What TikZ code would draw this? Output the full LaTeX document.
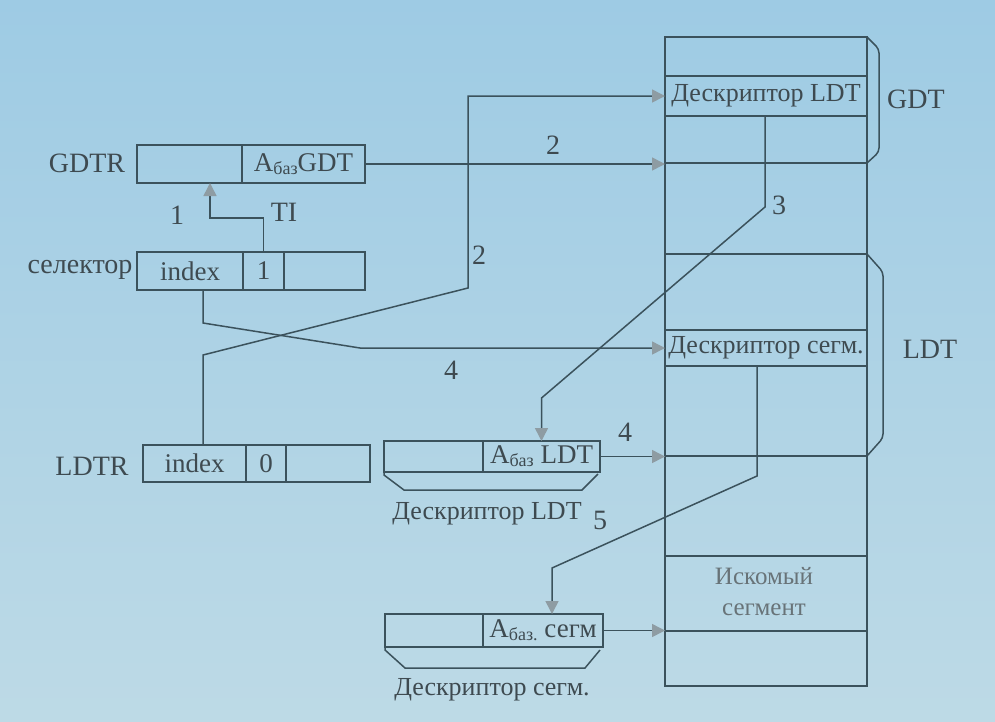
\documentclass[tikz,border=0pt]{standalone}
\usepackage{fontspec}
\setmainfont{Liberation Serif}
\usetikzlibrary{arrows.meta,calc}
\definecolor{ln}{HTML}{3B525C}
\definecolor{tx}{HTML}{3E4A50}
\definecolor{tx2}{HTML}{687378}
\definecolor{ah}{HTML}{8E9CA3}
\definecolor{bgt}{HTML}{9ECBE4}
\definecolor{bgb}{HTML}{BDDAE6}
\newcommand{\sbz}[1]{\raisebox{-3pt}{\fontsize{18}{18}\selectfont #1}}
\begin{document}
\begin{tikzpicture}[x=1pt,y=-1pt,
  cell/.style={draw=ln, line width=1.5pt, rectangle, inner sep=0pt, outer sep=0pt, text=tx, font=\fontsize{27}{27}\selectfont},
  trow/.style={cell, minimum width=202pt, font=\fontsize{26}{26}\selectfont},
  lbl/.style={text=tx, inner sep=0pt, font=\fontsize{28}{28}\selectfont},
  conn/.style={draw=ln, line width=1.5pt},
  arr/.style={conn, -{Triangle[length=13pt,width=13pt,fill=ah,color=ah]}}]
\fill[top color=bgt, bottom color=bgb] (0,0) rectangle (995,721);
\useasboundingbox (0,0) rectangle (995,721);

% table
\node[trow, minimum height=39pt] (r1) at (766,56.5) {};
\node[trow, minimum height=40pt] (r2) at (766,96) {Дескриптор LDT};
\node[trow, minimum height=47pt] (r3) at (766,139.5) {};
\node[trow, minimum height=91pt] (r4) at (766,208.5) {};
\node[trow, minimum height=76pt] (r5) at (766,292) {};
\node[trow, minimum height=36pt] (r6) at (766,348) {Дескриптор сегм.};
\node[trow, minimum height=90pt] (r7) at (766,411) {};
\node[trow, minimum height=100pt] (r8) at (766,506) {};
\node[trow, minimum height=75pt] (r9) at (766,593.5) {};
\node[trow, minimum height=55pt] (r10) at (766,658.5) {};
\node[lbl, text=tx2, align=center, font=\fontsize{25}{31}\selectfont] (seg) at (764,592) {Искомый\\сегмент};

% brackets
\draw[conn, rounded corners=4pt] (r1.north east) -- (879,49) -- (879,152) -- (r3.south east);
\draw[conn, rounded corners=4pt] (r5.north east) -- (883,272) -- (883,438) -- (r7.south east);
\node[lbl] (gdt) at (916,99) {GDT};
\node[lbl] (ldt) at (930,349) {LDT};

% GDTR
\node[lbl] (gdtrl) at (87,163) {GDTR};
\node[cell, minimum width=105pt, minimum height=38pt] (gA) at (189.5,164) {};
\node[cell, minimum width=123pt, minimum height=38pt] (gB) at (303.5,164) {А\sbz{баз}GDT};

% selector
\node[lbl] (sell) at (80,270) {селектор};
\node[cell, minimum width=106pt, minimum height=38pt] (sIdx) at (190,271) {index};
\node[cell, minimum width=41pt, minimum height=38pt] (sTI) at (263.5,271) {1};
\node[cell, minimum width=81pt, minimum height=38pt] (sR) at (324.5,271) {};

% LDTR
\node[lbl] (ldtrl) at (92,466) {LDTR};
\node[cell, minimum width=103pt, minimum height=37pt] (lIdx) at (194.5,463.5) {index};
\node[cell, minimum width=40pt, minimum height=37pt] (lTI) at (266,463.5) {0};
\node[cell, minimum width=84pt, minimum height=37pt] (lR) at (328,463.5) {};

% descriptor LDT
\node[cell, minimum width=99pt, minimum height=31pt] (dLa) at (433.5,456.5) {};
\node[cell, minimum width=117pt, minimum height=31pt] (dLb) at (541.5,456.5) {А\sbz{баз} LDT};
\draw[conn] (dLa.south west) -- ++(0,3) -- (404,490) -- (582,490) -- (598,474);
\node[lbl, font=\fontsize{26}{26}\selectfont] (dLl) at (487,514) {Дескриптор LDT};

% descriptor segm
\node[cell, minimum width=98pt, minimum height=33pt] (dSa) at (434,630.5) {};
\node[cell, minimum width=120pt, minimum height=33pt] (dSb) at (543,630.5) {А\sbz{баз.} сегм};
\draw[conn] (dSa.south west) -- ++(0,3) -- (405,668) -- (585,668) -- (600,650);
\node[lbl, font=\fontsize{26}{26}\selectfont] (dSl) at (492,690) {Дескриптор сегм.};

% connectors
\coordinate (cT1) at (263.5,218);
\coordinate (cT2) at (210,218);
\draw[arr] (sTI.north) -- (cT1) -- (cT2) -- (cT2 |- gA.south);
\node[lbl] (n1) at (177,215) {1};
\node[lbl] (nTI) at (284,212) {TI};

\draw[arr] (gB.east) -- (gB.east -| r4.west);
\node[lbl] (n2a) at (553,145) {2};

\coordinate (c2a) at (203,355);
\coordinate (c2b) at (468,288);
\draw[arr] (c2a |- lIdx.north) -- (c2a) -- (c2b) -- (c2b |- r2.west) -- (r2.west);
\node[lbl] (n2b) at (479,255) {2};

\coordinate (c4a) at (203,323);
\coordinate (c4b) at (360,348);
\draw[arr] (c4a |- sIdx.south) -- (c4a) -- (c4b) -- (r6.west);
\node[lbl] (n4a) at (451,370) {4};

\coordinate (c3a) at (765,207);
\coordinate (c3b) at (541.5,398);
\draw[arr] (c3a |- r2.south) -- (c3a) -- (c3b) -- (dLb.north);
\node[lbl] (n3) at (779,205) {3};

\draw[arr] (dLb.east) -- (dLb.east -| r8.west);
\node[lbl] (n4b) at (625,432) {4};

\coordinate (c5a) at (757,476);
\coordinate (c5b) at (552,568);
\draw[arr] (c5a |- r6.south) -- (c5a) -- (c5b) -- (c5b |- dSb.north);
\node[lbl] (n5) at (600,520) {5};

\draw[arr] (dSb.east) -- (dSb.east -| r10.west);
\end{tikzpicture}
\end{document}
